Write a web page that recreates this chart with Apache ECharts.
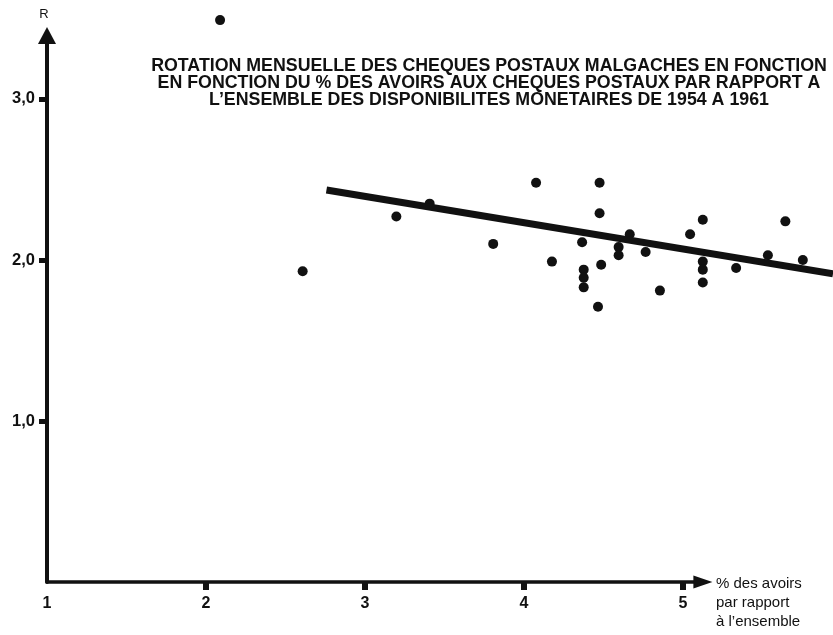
<!DOCTYPE html>
<html><head><meta charset="utf-8">
<script src="https://cdn.jsdelivr.net/npm/echarts@6/dist/echarts.min.js"></script>
<style>html,body{margin:0;padding:0;background:#fff}#c{width:833px;height:635px}</style>
</head><body><div id="c"></div>
<script>
// Tick labels
const xTickValues = [1, 2, 3, 4, 5];
const xTickMarks = [2, 3, 4, 5];
const yTickValues = [1, 2, 3];
// Series: % des avoirs (x) and monthly rotation R (y)
const pctAvoirs = [2.09, 2.61, 3.20, 3.41, 3.81, 4.08, 4.18, 4.37, 4.38, 4.38, 4.38, 4.47, 4.48, 4.48, 4.49, 4.60, 4.60, 4.67, 4.77, 4.86, 5.05, 5.13, 5.13, 5.13, 5.13, 5.34, 5.54, 5.65, 5.76];
const rotation  = [3.49, 1.93, 2.27, 2.35, 2.10, 2.48, 1.99, 2.11, 1.94, 1.89, 1.83, 1.71, 2.48, 2.29, 1.97, 2.08, 2.03, 2.16, 2.05, 1.81, 2.16, 2.25, 1.99, 1.94, 1.86, 1.95, 2.03, 2.24, 2.00];
// Regression line end points
const trendX = [2.76, 5.95];
const trendY = [2.435, 1.915];

const titleText = "ROTATION MENSUELLE DES CHEQUES POSTAUX MALGACHES EN FONCTION\nEN FONCTION DU % DES AVOIRS AUX CHEQUES POSTAUX PAR RAPPORT A\nL\u2019ENSEMBLE DES DISPONIBILITES MONETAIRES DE 1954 A 1961";
const xName = "% des avoirs\npar rapport\n\u00e0 l\u2019ensemble";

const FONT = "'Liberation Sans', Arial, Helvetica, sans-serif";
const INK = '#111';

const chart = echarts.init(document.getElementById('c'), null, {renderer: 'canvas'});
const scatterData = pctAvoirs.map((x, i) => [x, rotation[i]]);
const trendData = trendX.map((x, i) => [x, trendY[i]]);

chart.setOption({
  backgroundColor: '#fff',
  animation: false,
  grid: [
    {left: 47, right: 130.1, top: 35.5, bottom: 53},
    {left: 47, right: -1, top: 2.4, bottom: 53}
  ],
  xAxis: [
    {
      gridIndex: 0, type: 'value', min: 1, max: 5.125, interval: 1,
      axisLine: {onZero: false, symbol: ['none', 'triangle'], symbolSize: [13, 19], lineStyle: {color: INK, width: 3.5}},
      axisTick: {customValues: xTickMarks, length: 8, lineStyle: {color: INK, width: 6}},
      axisLabel: {customValues: xTickValues, margin: 14, color: INK, fontSize: 16, fontWeight: 'bold', fontFamily: FONT},
      splitLine: {show: false}
    },
    {gridIndex: 1, type: 'value', min: 1, max: 5.95, show: false, splitLine: {show: false}}
  ],
  yAxis: [
    {
      gridIndex: 0, type: 'value', min: 0, max: 3.394, interval: 1,
      name: 'R', nameLocation: 'end', nameGap: 21,
      nameTextStyle: {color: INK, fontSize: 13, fontFamily: FONT, align: 'center', verticalAlign: 'middle', padding: [0, 6, 0, 0]},
      axisLine: {onZero: false, symbol: ['none', 'triangle'], symbolSize: [18, 17], lineStyle: {color: INK, width: 4}},
      axisTick: {customValues: yTickValues, length: 8, lineStyle: {color: INK, width: 5}},
      axisLabel: {customValues: yTickValues, margin: 12, color: INK, fontSize: 16.5, fontWeight: 'bold', fontFamily: FONT,
        formatter: v => v.toFixed(1).replace('.', ',')},
      splitLine: {show: false}
    },
    {gridIndex: 1, type: 'value', min: 0, max: 3.6, show: false, splitLine: {show: false}}
  ],
  graphic: [
    {type: 'text', x: 489, y: 58, style: {text: titleText, fill: INK, font: 'bold 17.8px ' + FONT, lineHeight: 17, textAlign: 'center', textVerticalAlign: 'top'}},
    {type: 'text', x: 716, y: 574, style: {text: xName, fill: INK, font: '15px ' + FONT, lineHeight: 19, textAlign: 'left', textVerticalAlign: 'top'}}
  ],
  series: [
    {type: 'scatter', xAxisIndex: 1, yAxisIndex: 1, data: scatterData, symbol: 'circle', symbolSize: 10,
      itemStyle: {color: INK, opacity: 1}, z: 3, silent: true},
    {type: 'line', xAxisIndex: 1, yAxisIndex: 1, data: trendData, symbol: 'none',
      lineStyle: {color: INK, width: 7, cap: 'butt'}, z: 4, silent: true}
  ]
});
</script></body></html>
